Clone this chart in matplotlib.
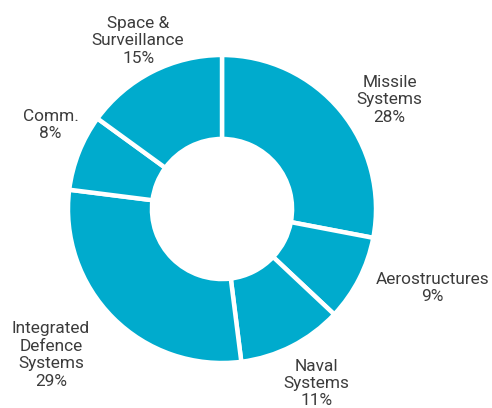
import numpy as np
import matplotlib.pyplot as plt

labels = ["Missile\nSystems", "Aerostructures", "Naval\nSystems",
          "Integrated\nDefence\nSystems", "Comm.", "Space &\nSurveillance"]
shares = [28, 9, 11, 29, 8, 15]

# where each label sits, relative to its wedge (radius factor, angle nudge in degrees)
label_dist = [1.30, 1.46, 1.29, 1.46, 1.24, 1.22]
label_nudge = [-6.5, 6.5, 1.5, -4.5, -4.5, -0.5]

plt.rcParams["font.family"] = ["Roboto", "DejaVu Sans"]

fig = plt.figure(figsize=(4.92, 4.08), dpi=100)
cx, cy, r = 222, 209, 154
ax = fig.add_axes([(cx - r) / 492, (408 - cy - r) / 408, 2 * r / 492, 2 * r / 408])

wedges, _ = ax.pie(shares, startangle=90, counterclock=False, radius=1,
                   colors=["#00ABCD"] * len(shares),
                   wedgeprops=dict(width=0.545, edgecolor="white", linewidth=3.2))

for w, lab, val, d, nudge in zip(wedges, labels, shares, label_dist, label_nudge):
    ang = np.deg2rad((w.theta1 + w.theta2) / 2 + nudge)
    ax.text(d * np.cos(ang), d * np.sin(ang), f"{lab}\n{val}%",
            ha="center", va="center", fontsize=12.4,
            color="#3c3c3c", linespacing=1.2, clip_on=False)

ax.set_xlim(-1, 1)
ax.set_ylim(-1, 1)
ax.set_aspect("equal")
ax.axis("off")

fig.savefig("out.png", dpi=100)
